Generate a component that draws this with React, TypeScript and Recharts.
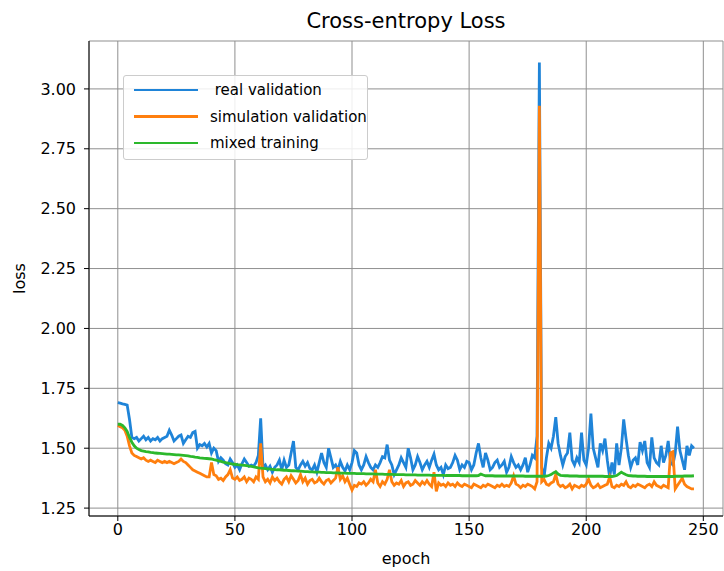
import { LineChart, Line, XAxis, YAxis, CartesianGrid } from 'recharts';

// loss per epoch (epochs 0..246)
const realValidation = [
  1.69, 1.688, 1.685, 1.683, 1.68, 1.62, 1.545, 1.54, 1.545, 1.53,
  1.54, 1.55, 1.535, 1.545, 1.53, 1.54, 1.535, 1.545, 1.53, 1.54,
  1.545, 1.55, 1.575, 1.555, 1.53, 1.54, 1.55, 1.555, 1.52, 1.535,
  1.55, 1.545, 1.565, 1.57, 1.50, 1.515, 1.51, 1.52, 1.505, 1.52,
  1.48, 1.50, 1.49, 1.445, 1.46, 1.45, 1.435, 1.43, 1.455, 1.44,
  1.42, 1.43, 1.41, 1.435, 1.455, 1.44, 1.425, 1.43, 1.425, 1.44,
  1.47, 1.625, 1.42, 1.43, 1.41, 1.425, 1.40, 1.42, 1.43, 1.45,
  1.41, 1.45, 1.42, 1.43, 1.48, 1.53, 1.42, 1.41, 1.43, 1.445,
  1.425, 1.44, 1.415, 1.41, 1.43, 1.40, 1.44, 1.48, 1.44, 1.42,
  1.50, 1.46, 1.42, 1.43, 1.41, 1.445, 1.42, 1.405, 1.43, 1.41,
  1.44, 1.49, 1.48, 1.43, 1.41, 1.43, 1.465, 1.44, 1.42, 1.41,
  1.43, 1.42, 1.44, 1.465, 1.46, 1.515, 1.45, 1.43, 1.39, 1.41,
  1.43, 1.46, 1.44, 1.42, 1.50, 1.46, 1.41, 1.43, 1.465, 1.44,
  1.41, 1.43, 1.445, 1.42, 1.45, 1.475, 1.43, 1.41, 1.42, 1.39,
  1.43, 1.415, 1.42, 1.44, 1.47, 1.45, 1.41, 1.43, 1.42, 1.445,
  1.44, 1.41, 1.43, 1.48, 1.52, 1.46, 1.42, 1.48, 1.45, 1.41,
  1.42, 1.44, 1.45, 1.42, 1.43, 1.445, 1.40, 1.42, 1.465, 1.44,
  1.42, 1.43, 1.41, 1.43, 1.46, 1.40, 1.43, 1.47, 1.46, 1.55,
  3.11, 1.42, 1.38, 1.46, 1.52, 1.50, 1.55, 1.63, 1.52, 1.47,
  1.43, 1.465, 1.48, 1.565, 1.45, 1.43, 1.46, 1.44, 1.565, 1.45,
  1.43, 1.50, 1.645, 1.50, 1.46, 1.42, 1.52, 1.49, 1.54, 1.45,
  1.38, 1.44, 1.39, 1.52, 1.43, 1.50, 1.62, 1.54, 1.47, 1.42,
  1.45, 1.46, 1.43, 1.525, 1.49, 1.53, 1.44, 1.42, 1.545, 1.46,
  1.44, 1.43, 1.51, 1.44, 1.47, 1.53, 1.44, 1.43, 1.48, 1.59,
  1.49, 1.45, 1.41, 1.51, 1.47, 1.51, 1.50,
];

const simValidation = [
  1.595, 1.59, 1.585, 1.575, 1.55, 1.51, 1.48, 1.47, 1.465, 1.46,
  1.455, 1.46, 1.45, 1.445, 1.45, 1.445, 1.44, 1.45, 1.445, 1.44,
  1.445, 1.44, 1.445, 1.44, 1.435, 1.44, 1.445, 1.455, 1.445, 1.44,
  1.43, 1.42, 1.41, 1.405, 1.40, 1.395, 1.39, 1.385, 1.38, 1.38,
  1.44, 1.39, 1.385, 1.37, 1.375, 1.365, 1.38, 1.39, 1.41, 1.375,
  1.37, 1.38, 1.365, 1.37, 1.38, 1.36, 1.375, 1.37, 1.36, 1.38,
  1.37, 1.52, 1.38, 1.36, 1.37, 1.355, 1.38, 1.365, 1.375, 1.36,
  1.35, 1.37, 1.38, 1.36, 1.385, 1.37, 1.355, 1.365, 1.39, 1.36,
  1.375, 1.35, 1.365, 1.37, 1.355, 1.36, 1.375, 1.36, 1.35, 1.365,
  1.37, 1.355, 1.365, 1.375, 1.42, 1.37, 1.385, 1.36, 1.375, 1.35,
  1.325, 1.345, 1.34, 1.355, 1.35, 1.36, 1.345, 1.355, 1.37, 1.36,
  1.41, 1.355, 1.34, 1.36, 1.35, 1.37, 1.41, 1.36, 1.345, 1.355,
  1.35, 1.365, 1.34, 1.355, 1.36, 1.345, 1.35, 1.365, 1.355, 1.345,
  1.36, 1.35, 1.365, 1.35, 1.34, 1.40, 1.32, 1.355, 1.345, 1.35,
  1.34, 1.355, 1.345, 1.35, 1.34, 1.355, 1.345, 1.34, 1.35, 1.345,
  1.34, 1.335, 1.35, 1.345, 1.34, 1.335, 1.345, 1.34, 1.35, 1.345,
  1.34, 1.335, 1.345, 1.34, 1.35, 1.34, 1.345, 1.34, 1.355, 1.385,
  1.35, 1.345, 1.335, 1.345, 1.34, 1.35, 1.345, 1.34, 1.33, 1.36,
  2.93, 1.36, 1.37, 1.35, 1.345, 1.355, 1.36, 1.39, 1.35, 1.34,
  1.345, 1.335, 1.34, 1.35, 1.33, 1.345, 1.34, 1.335, 1.345, 1.34,
  1.35, 1.37, 1.345, 1.335, 1.34, 1.35, 1.335, 1.34, 1.345, 1.35,
  1.38, 1.34, 1.335, 1.345, 1.34, 1.35, 1.345, 1.36, 1.34, 1.335,
  1.345, 1.34, 1.35, 1.345, 1.34, 1.335, 1.345, 1.35, 1.34, 1.36,
  1.345, 1.34, 1.335, 1.345, 1.34, 1.335, 1.48, 1.485, 1.33, 1.345,
  1.36, 1.375, 1.35, 1.34, 1.335, 1.33, 1.33,
];

const mixedTraining = [
  1.60, 1.60, 1.595, 1.585, 1.57, 1.545, 1.525, 1.51, 1.50, 1.495,
  1.49, 1.488, 1.486, 1.485, 1.483, 1.482, 1.48, 1.479, 1.478, 1.477,
  1.476, 1.475, 1.475, 1.474, 1.473, 1.472, 1.472, 1.471, 1.47, 1.469,
  1.468, 1.466, 1.465, 1.463, 1.462, 1.46, 1.459, 1.458, 1.457, 1.456,
  1.455, 1.452, 1.45, 1.447, 1.445, 1.442, 1.44, 1.438, 1.436, 1.434,
  1.433, 1.431, 1.43, 1.429, 1.428, 1.427, 1.425, 1.424, 1.422, 1.42,
  1.418, 1.417, 1.416, 1.415, 1.414, 1.413, 1.412, 1.411, 1.41, 1.41,
  1.409, 1.408, 1.408, 1.407, 1.406, 1.406, 1.405, 1.404, 1.404, 1.403,
  1.402, 1.402, 1.401, 1.401, 1.40, 1.40, 1.40, 1.399, 1.399, 1.398,
  1.398, 1.398, 1.397, 1.397, 1.397, 1.396, 1.396, 1.396, 1.395, 1.395,
  1.395, 1.395, 1.394, 1.394, 1.394, 1.394, 1.393, 1.393, 1.393, 1.393,
  1.392, 1.392, 1.392, 1.392, 1.391, 1.391, 1.391, 1.391, 1.39, 1.39,
  1.39, 1.39, 1.39, 1.389, 1.389, 1.389, 1.389, 1.389, 1.388, 1.388,
  1.388, 1.388, 1.388, 1.388, 1.387, 1.387, 1.387, 1.387, 1.387, 1.387,
  1.386, 1.386, 1.386, 1.386, 1.386, 1.386, 1.386, 1.385, 1.385, 1.385,
  1.385, 1.385, 1.385, 1.385, 1.386, 1.392, 1.388, 1.385, 1.385, 1.385,
  1.385, 1.384, 1.384, 1.384, 1.384, 1.384, 1.384, 1.384, 1.384, 1.384,
  1.384, 1.384, 1.384, 1.384, 1.383, 1.383, 1.383, 1.383, 1.383, 1.383,
  1.383, 1.383, 1.383, 1.384, 1.386, 1.39, 1.397, 1.402, 1.392, 1.387,
  1.386, 1.385, 1.385, 1.384, 1.384, 1.384, 1.384, 1.383, 1.383, 1.383,
  1.383, 1.383, 1.383, 1.383, 1.383, 1.383, 1.383, 1.383, 1.382, 1.382,
  1.382, 1.382, 1.383, 1.386, 1.393, 1.40, 1.394, 1.389, 1.386, 1.385,
  1.384, 1.384, 1.383, 1.383, 1.383, 1.383, 1.382, 1.382, 1.382, 1.382,
  1.382, 1.382, 1.382, 1.382, 1.382, 1.382, 1.382, 1.382, 1.383, 1.383,
  1.383, 1.383, 1.384, 1.384, 1.384, 1.384, 1.385,
];

const xTicks = [0, 50, 100, 150, 200, 250];
const yTicks = [1.25, 1.5, 1.75, 2.0, 2.25, 2.5, 2.75, 3.0];

const series = [
  { key: 'real', name: ' real validation', color: '#1f84d8' },
  { key: 'sim', name: 'simulation validation', color: '#ff7f0e' },
  { key: 'mixed', name: 'mixed training', color: '#2cb82c' },
];

const data = realValidation.map((v, i) => ({
  epoch: i,
  real: v,
  sim: simValidation[i],
  mixed: mixedTraining[i],
}));

const font = '"DejaVu Sans", sans-serif';

export default function App() {
  return (
    <div style={{ position: 'fixed', left: 0, top: 0, width: 724, height: 571, overflow: 'hidden', background: '#fff', fontFamily: font }}>
      <div style={{ position: 'absolute', left: 89, width: 634, top: 9, textAlign: 'center', fontSize: 21, color: '#000' }}>
        Cross-entropy Loss
      </div>
      <LineChart width={724} height={571} data={data} margin={{ top: 41, right: 1, left: 0, bottom: 0 }}>
        <CartesianGrid stroke="#8f8f8f" strokeWidth={1} ticks={yTicks} />
        <XAxis
          dataKey="epoch"
          type="number"
          domain={[-12.3, 258.4]}
          ticks={xTicks}
          height={55}
          stroke="#000"
          tickSize={5}
          tickMargin={3}
          tick={{ fill: '#000', fontSize: 16, fontFamily: font }}
          label={{ value: 'epoch', position: 'insideBottom', offset: 7, fill: '#000', fontSize: 16, fontFamily: font }}
        />
        <XAxis xAxisId="top" orientation="top" type="number" domain={[0, 1]} height={0} tick={false} tickLine={false} stroke="#000" />
        <YAxis
          type="number"
          domain={[1.217, 3.2]}
          ticks={yTicks}
          allowDataOverflow
          width={89}
          stroke="#000"
          tickSize={5}
          tickMargin={8}
          tickFormatter={(v: number) => v.toFixed(2)}
          tick={{ fill: '#000', fontSize: 16, fontFamily: font }}
          label={{ value: 'loss', angle: -90, position: 'insideLeft', offset: 19, fill: '#000', fontSize: 16, fontFamily: font, style: { textAnchor: 'middle' } }}
        />
        <YAxis yAxisId="right" orientation="right" type="number" domain={[0, 1]} width={0} tick={false} tickLine={false} stroke="#000" />
        {series.map((s) => (
          <Line
            key={s.key}
            dataKey={s.key}
            name={s.name}
            type="linear"
            stroke={s.color}
            strokeWidth={2.8}
            dot={false}
            isAnimationActive={false}
          />
        ))}
      </LineChart>
      <div
        style={{
          position: 'absolute',
          left: 123,
          top: 75,
          width: 245,
          height: 85,
          boxSizing: 'border-box',
          border: '1px solid #ccc',
          borderRadius: 3,
          background: 'rgba(255,255,255,0.85)',
        }}
      >
        {series.map((s, i) => (
          <div key={s.key} style={{ position: 'absolute', left: 10, top: 4 + i * 26.5, height: 20, display: 'flex', alignItems: 'center' }}>
            <div style={{ width: 64, height: 2.8, background: s.color }} />
            <span style={{ marginLeft: 12, fontSize: 15, color: '#000', whiteSpace: 'pre' }}>{s.name}</span>
          </div>
        ))}
      </div>
    </div>
  );
}
